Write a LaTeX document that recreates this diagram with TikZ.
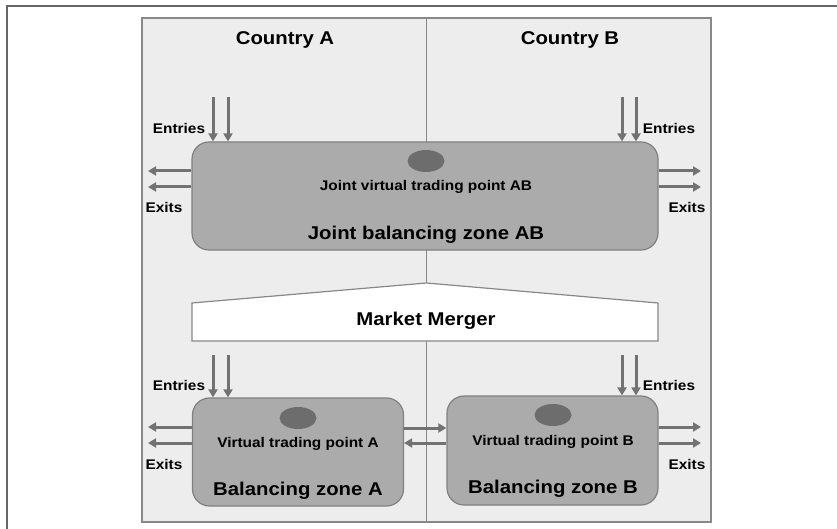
\documentclass[tikz,border=0pt]{standalone}
\usepackage{fontspec}
\setmainfont{Liberation Sans}[FakeStretch=1.1]
\usetikzlibrary{arrows.meta,shapes.geometric}
\definecolor{panelfill}{HTML}{EDEDED}
\definecolor{panelline}{HTML}{888888}
\definecolor{boxfill}{HTML}{ABABAB}
\definecolor{boxline}{HTML}{808080}
\definecolor{dotfill}{HTML}{6D6D6D}
\definecolor{arrowcol}{HTML}{727272}
\definecolor{framecol}{HTML}{666666}
\tikzset{
  zonebox/.style={draw=boxline, line width=1.2pt, fill=boxfill, rounded corners=17pt, inner sep=0pt},
  vtp/.style={ellipse, fill=dotfill, draw=none, minimum width=37pt, minimum height=22pt, inner sep=0pt},
  flow/.style={draw=arrowcol, line width=3pt, -{Triangle[length=8pt,width=9pt]}},
  smalltxt/.style={font=\fontsize{14}{16}\selectfont\bfseries},
  bigtxt/.style={font=\fontsize{18.5}{21}\selectfont\bfseries},
}
\begin{document}
\begin{tikzpicture}[x=1pt,y=-1pt]
\useasboundingbox (0,0) rectangle (837,529);
% outer frame (partial)
\draw[framecol, line width=2pt] (7,529) -- (7,6) -- (837,6);
% panel
\draw[panelline, fill=panelfill, line width=1.2pt] (142,18) rectangle (711,522);
\draw[panelline, line width=1pt] (426.5,18) -- (426.5,522);
% country labels
\node[bigtxt] (ca) at (285,40) {Country A};
\node[bigtxt] (cb) at (570,40) {Country B};
% joint zone
\node[zonebox, minimum width=466pt, minimum height=108pt] (top) at (425,196) {};
\node[vtp] (tdot) at (426,161) {};
\node[smalltxt] (tvtp) at (426,187) {Joint virtual trading point AB};
\node[bigtxt] (tzone) at (426,235) {Joint balancing zone AB};
% market merger
\draw[panelline, fill=white, line width=1.2pt] (192,341) -- (192,303) -- (426.5,283) -- (658,303) -- (658,341) -- cycle;
\node[bigtxt] (mm) at (426,321) {Market Merger};
% zone A and B
\node[zonebox, minimum width=211pt, minimum height=108pt] (za) at (298,452) {};
\node[zonebox, minimum width=211pt, minimum height=109pt] (zb) at (552.5,450.5) {};
\node[vtp] (adot) at (298,418) {};
\node[vtp] (bdot) at (553,415) {};
\node[smalltxt] (avtp) at (298,444) {Virtual trading point A};
\node[smalltxt] (bvtp) at (553,442) {Virtual trading point B};
\node[bigtxt] (azone) at (298,491) {Balancing zone A};
\node[bigtxt] (bzone) at (553,489) {Balancing zone B};
% free ends
\coordinate (e1) at (213,97);
\coordinate (e2) at (228,97);
\coordinate (e3) at (622,97);
\coordinate (e4) at (636,97);
\coordinate (x1) at (148,171);
\coordinate (x2) at (148,187);
\coordinate (x3) at (701,171);
\coordinate (x4) at (701,187);
\coordinate (e5) at (213,355);
\coordinate (e6) at (228,355);
\coordinate (e7) at (622,355);
\coordinate (e8) at (636,355);
\coordinate (x5) at (148,427);
\coordinate (x6) at (148,443);
\coordinate (x7) at (701,427);
\coordinate (x8) at (701,443);
\coordinate (m1) at (0,428);
\coordinate (m2) at (0,443);
% arrows top
\draw[flow] (e1) -- (e1 |- top.north);
\draw[flow] (e2) -- (e2 |- top.north);
\draw[flow] (e3) -- (e3 |- top.north);
\draw[flow] (e4) -- (e4 |- top.north);
\draw[flow] (x1 -| top.west) -- (x1);
\draw[flow] (x2 -| top.west) -- (x2);
\draw[flow] (x3 -| top.east) -- (x3);
\draw[flow] (x4 -| top.east) -- (x4);
% arrows bottom
\draw[flow] (e5) -- (e5 |- za.north);
\draw[flow] (e6) -- (e6 |- za.north);
\draw[flow] (e7) -- (e7 |- zb.north);
\draw[flow] (e8) -- (e8 |- zb.north);
\draw[flow] (x5 -| za.west) -- (x5);
\draw[flow] (x6 -| za.west) -- (x6);
\draw[flow] (x7 -| zb.east) -- (x7);
\draw[flow] (x8 -| zb.east) -- (x8);
\draw[flow] (m1 -| za.east) -- (m1 -| zb.west);
\draw[flow] (m2 -| zb.west) -- (m2 -| za.east);
% labels
\node[smalltxt] (en1) at (179,128) {Entries};
\node[smalltxt] (en2) at (669,128) {Entries};
\node[smalltxt] (ex1) at (164,207) {Exits};
\node[smalltxt] (ex2) at (687,207) {Exits};
\node[smalltxt] (en3) at (179,385) {Entries};
\node[smalltxt] (en4) at (669,385) {Entries};
\node[smalltxt] (ex3) at (164,464) {Exits};
\node[smalltxt] (ex4) at (687,464) {Exits};
\end{tikzpicture}
\end{document}
